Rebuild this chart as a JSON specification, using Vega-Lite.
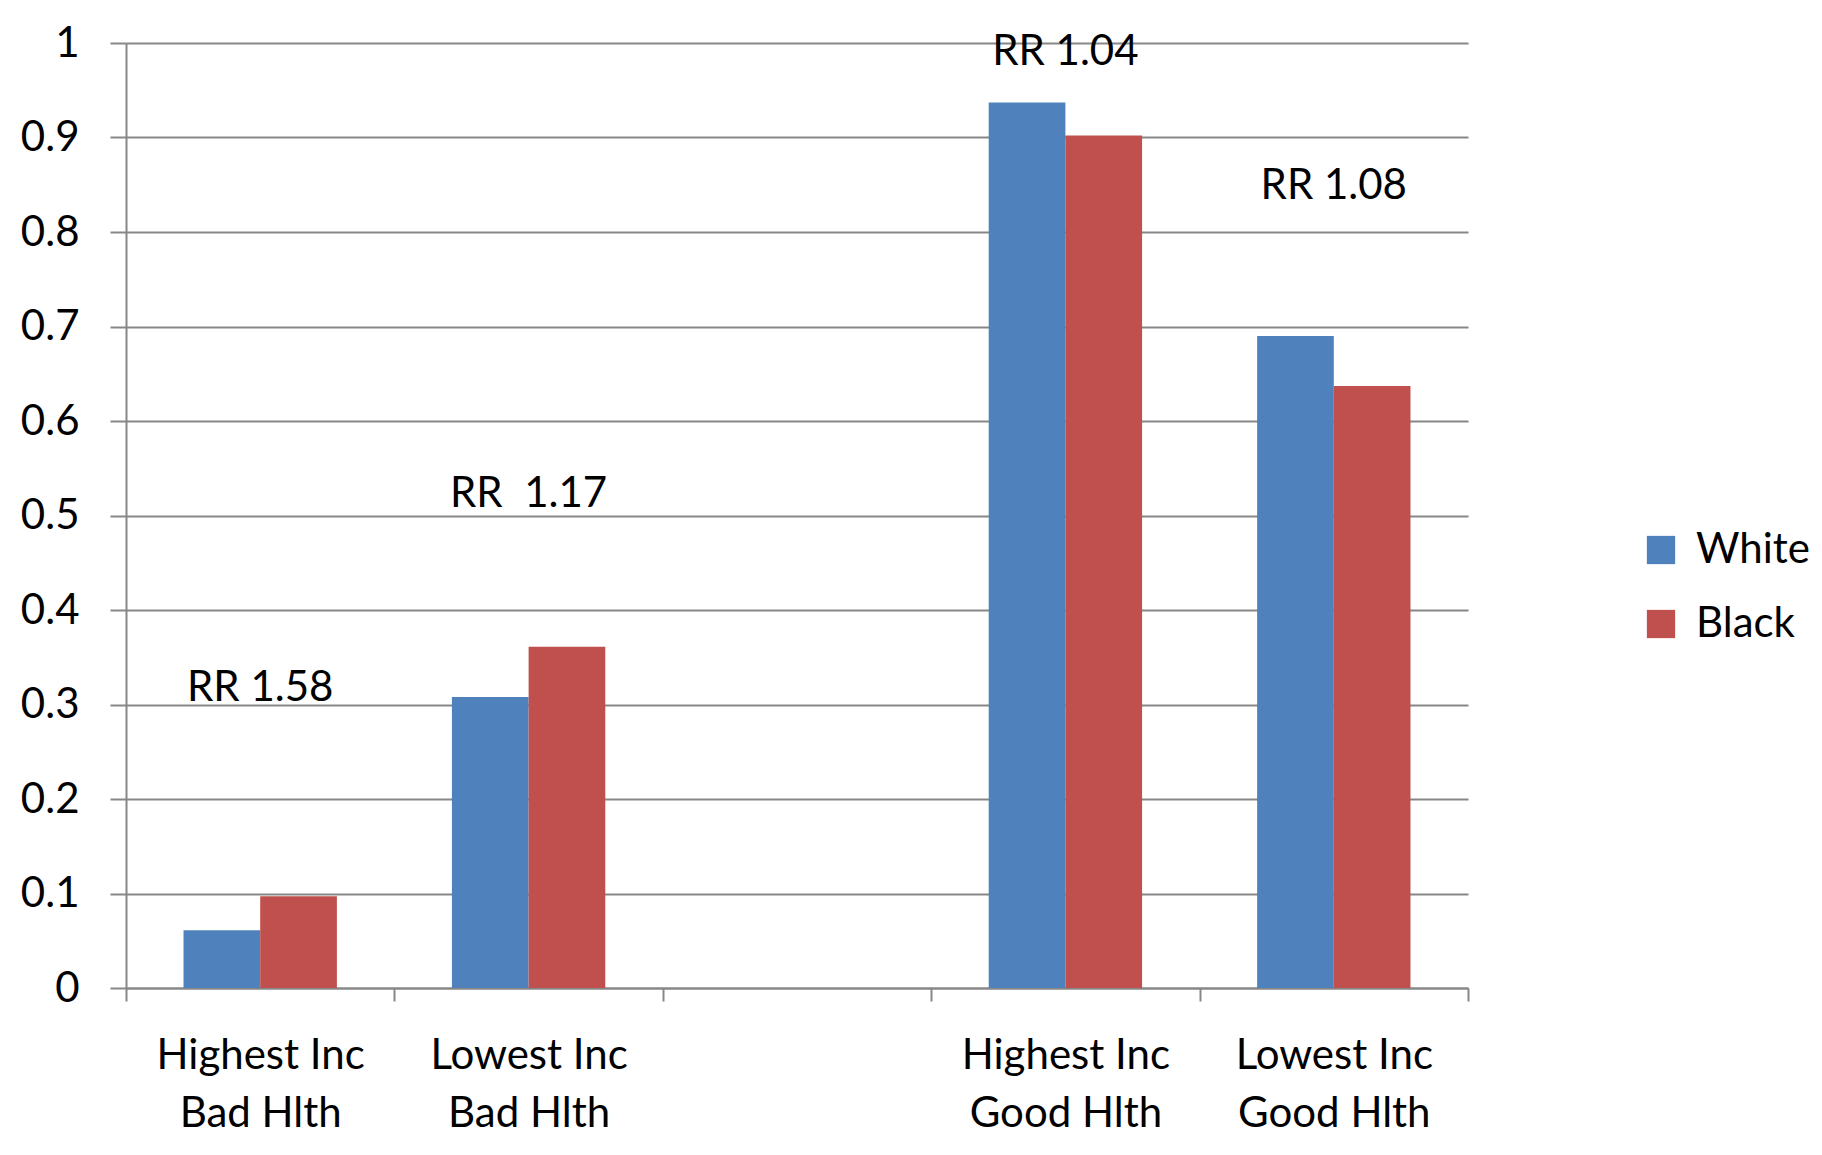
{
  "$schema": "https://vega.github.io/schema/vega-lite/v6.json",
  "width": 1342,
  "height": 945,
  "autosize": {"type": "none"},
  "padding": {"left": 126, "top": 43, "right": 354, "bottom": 167},
  "background": "white",
  "config": {"view": {"stroke": null}},
  "datasets": {
    "bars": [
      {"group": "Highest Inc|Bad Hlth", "race": "White", "value": 0.061},
      {"group": "Highest Inc|Bad Hlth", "race": "Black", "value": 0.097},
      {"group": "Lowest Inc|Bad Hlth", "race": "White", "value": 0.308},
      {"group": "Lowest Inc|Bad Hlth", "race": "Black", "value": 0.361},
      {"group": "Highest Inc|Good Hlth", "race": "White", "value": 0.937},
      {"group": "Highest Inc|Good Hlth", "race": "Black", "value": 0.902},
      {"group": "Lowest Inc|Good Hlth", "race": "White", "value": 0.690},
      {"group": "Lowest Inc|Good Hlth", "race": "Black", "value": 0.637}
    ],
    "rr": [
      {"group": "Highest Inc|Bad Hlth", "at": 0.317, "label": "RR 1.58"},
      {"group": "Lowest Inc|Bad Hlth", "at": 0.523, "label": "RR\u00a0 1.17"},
      {"group": "Highest Inc|Good Hlth", "at": 0.99, "label": "RR 1.04"},
      {"group": "Lowest Inc|Good Hlth", "at": 0.849, "label": "RR 1.08"}
    ]
  },
  "layer": [
    {
      "data": {"name": "bars"},
      "mark": {"type": "bar"},
      "encoding": {
        "x": {
          "field": "group",
          "type": "nominal",
          "sort": null,
          "scale": {
            "domain": ["Highest Inc|Bad Hlth", "Lowest Inc|Bad Hlth", " ", "Highest Inc|Good Hlth", "Lowest Inc|Good Hlth"],
            "paddingInner": 0,
            "paddingOuter": 0
          },
          "axis": {
            "title": null,
            "labelExpr": "split(datum.label, '|')",
            "labelAngle": 0,
            "labelFont": "Lato",
            "labelFontSize": 42,
            "labelColor": "#000000",
            "labelBaseline": "alphabetic",
            "labelLineHeight": 58,
            "labelPadding": 67,
            "labelLimit": 500,
            "labelOverlap": false,
            "tickSize": 13,
            "tickBand": "extent",
            "tickColor": "#878787",
            "tickWidth": 2,
            "domainColor": "#878787",
            "domainWidth": 2,
            "grid": false
          }
        },
        "xOffset": {
          "field": "race",
          "type": "nominal",
          "scale": {"domain": ["White", "Black"], "paddingInner": 0, "paddingOuter": 0.75}
        },
        "y": {
          "field": "value",
          "type": "quantitative",
          "scale": {"domain": [0, 1], "nice": false},
          "axis": {
            "title": null,
            "values": [0, 0.1, 0.2, 0.3, 0.4, 0.5, 0.6, 0.7, 0.8, 0.9, 1],
            "format": "~g",
            "labelFont": "Lato",
            "labelFontSize": 42,
            "labelColor": "#000000",
            "labelPadding": 31,
            "tickSize": 16,
            "tickColor": "#878787",
            "tickWidth": 2,
            "grid": true,
            "gridColor": "#878787",
            "gridWidth": 2,
            "domainColor": "#878787",
            "domainWidth": 2
          }
        },
        "color": {
          "field": "race",
          "type": "nominal",
          "scale": {"domain": ["White", "Black"], "range": ["#4F81BD", "#C0504D"]},
          "legend": {
            "title": null,
            "orient": "none",
            "legendX": 1514,
            "legendY": 486,
            "padding": 0,
            "symbolType": "square",
            "symbolSize": 800,
            "symbolStrokeWidth": 0,
            "labelFont": "Lato",
            "labelFontSize": 42,
            "labelColor": "#000000",
            "labelOffset": 14,
            "rowPadding": 32
          }
        }
      }
    },
    {
      "data": {"name": "rr"},
      "mark": {"type": "text", "font": "Lato", "fontSize": 42, "baseline": "middle", "align": "center", "color": "#000000"},
      "encoding": {
        "x": {"field": "group", "type": "nominal", "sort": null},
        "y": {"field": "at", "type": "quantitative", "scale": {"domain": [0, 1], "nice": false}},
        "text": {"field": "label"}
      }
    }
  ]
}
